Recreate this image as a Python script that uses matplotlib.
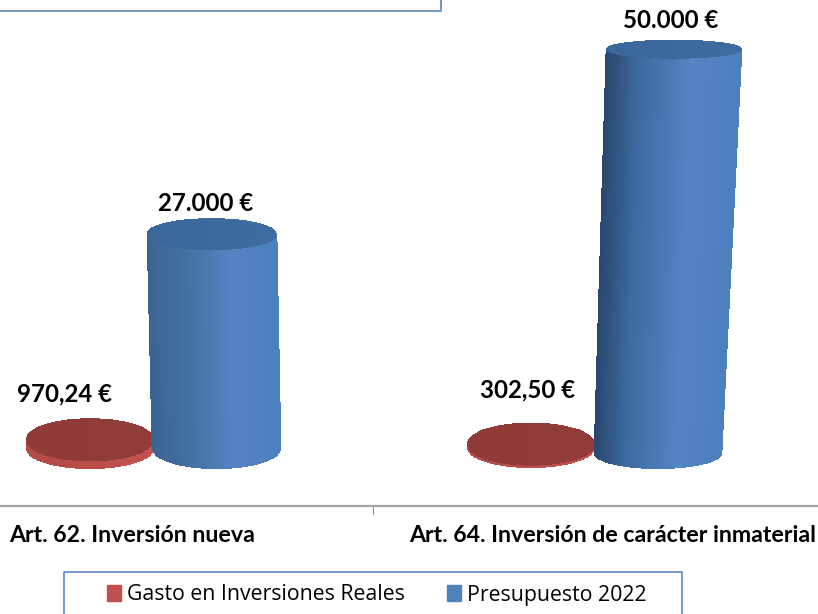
import numpy as np
import matplotlib
matplotlib.use("Agg")
import matplotlib.pyplot as plt
from matplotlib.colors import LinearSegmentedColormap
from matplotlib.patches import Rectangle

categories = ["Art. 62. Inversión nueva", "Art. 64. Inversión de carácter inmaterial"]
series_names = ["Gasto en Inversiones Reales", "Presupuesto 2022"]
gasto = [970.24, 302.50]
presupuesto = [27000, 50000]
gasto_labels = ["970,24 €", "302,50 €"]
presupuesto_labels = ["27.000 €", "50.000 €"]

W, H = 818, 614
PX_PER_EUR = 0.0079
BASE_PX = 447
AXIS_PX = 506

plt.rcParams['font.family'] = ['Lato', 'DejaVu Sans']

fig = plt.figure(figsize=(W / 100, H / 100), dpi=100)
ax = fig.add_axes([0, 1 - AXIS_PX / H, 1, AXIS_PX / H])
ax.set_xlim(0, W)
ax.set_ylim((BASE_PX - AXIS_PX) / PX_PER_EUR, BASE_PX / PX_PER_EUR)

blue = LinearSegmentedColormap.from_list("blue", [(0, "#3a6494"), (0.3, "#44719f"), (0.65, "#5384c4"), (1, "#4c7fbe")])
blue_dark = LinearSegmentedColormap.from_list("blue_dark", [(0, "#28486f"), (0.25, "#3d6a9f"), (0.65, "#5384c4"), (1, "#4c7fbe")])
blue_top = LinearSegmentedColormap.from_list("blue_top", ["#3a6699", "#3f6d9f"])
red_side = LinearSegmentedColormap.from_list("red_side", ["#b14a46", "#c4524e"])
red_top = LinearSegmentedColormap.from_list("red_top", ["#8f3b38", "#913c39"])


def to_eur(px):
    return px / PX_PER_EUR


def mesh(x, y, cmap):
    # edges in the face colour hide the seams between strips
    c = np.linspace(0, 1, x.shape[1] - 1)[None, :]
    ax.pcolormesh(x, y, c, cmap=cmap, vmin=0, vmax=1, shading='flat', edgecolors='face', linewidth=0.5)


def surface(top_c, top_r, top_y, top_ry, bot_c, bot_r, bot_y, bot_ry, cmap):
    u = np.linspace(-1, 1, 90)
    x = np.vstack([bot_c + u * bot_r, top_c + u * top_r])
    y = np.vstack([bot_y - np.sqrt(1 - u**2) * bot_ry, top_y - np.sqrt(1 - u**2) * top_ry])
    mesh(x, y, cmap)


def cap(c, r, y, ry, cmap):
    u = np.sin(np.linspace(-np.pi / 2, np.pi / 2, 120))
    x = np.vstack([c + u * r, c + u * r])
    yy = np.vstack([y - np.sqrt(np.clip(1 - u**2, 0, 1)) * ry, y + np.sqrt(np.clip(1 - u**2, 0, 1)) * ry])
    mesh(x, yy, cmap)


def cylinder(value, base_off, top_c, top_r, top_ry, bot_c, bot_r, bot_ry, stretch, side, top):
    base = to_eur(base_off)
    y_top = base + value * stretch
    surface(top_c, top_r, y_top, to_eur(top_ry), bot_c, bot_r, base, to_eur(bot_ry), side)
    cap(top_c, top_r, y_top, to_eur(top_ry), top)


# red discs go first, the blue cylinders overlap them
cylinder(gasto[0], 0, 89.5, 63.5, 21, 89.5, 63.5, 21, 1, red_side, red_top)
cylinder(gasto[1], 1, 530.5, 63.5, 21, 530.5, 63.5, 21, 1, red_side, red_top)
cylinder(presupuesto[0], 0, 211, 64.5, 15.5, 216, 64, 21, 1, blue, blue_top)
cylinder(presupuesto[1], -5, 673.5, 67.5, 9, 657.5, 63.5, 16, 1.021, blue_dark, blue_top)

for s in ['top', 'left', 'right']:
    ax.spines[s].set_visible(False)
ax.spines['bottom'].set_color("#a6a6a6")
ax.spines['bottom'].set_linewidth(1.6)
ax.set_yticks([])
ax.set_xticks([132.5, 612.5])
ax.set_xticklabels(categories, fontsize=16.7, fontweight='bold', color="black")
ax.tick_params(axis='x', length=0, pad=14)
ax.set_xticks([373], minor=True)
ax.tick_params(axis='x', which='minor', length=6, width=0.7, color="#808080")


def px_text(x, y, s):
    fig.text(x / W, 1 - y / H, s, ha='center', va='center', fontsize=17.3, fontweight='bold', color="black")


for s, x, y in zip(gasto_labels, [64, 528], [394, 390]):
    px_text(x, y, s)
for s, x, y in zip(presupuesto_labels, [206, 671], [204, 20]):
    px_text(x, y, s)

# boxes cut off by the edge of the picture
box_color = "#5b87c0"
fig.add_artist(plt.Line2D([0, 441 / W, 441 / W], [1 - 11 / H, 1 - 11 / H, 1], color=box_color, lw=1.2))
fig.add_artist(plt.Line2D([64 / W, 64 / W, 682 / W, 682 / W], [0, 1 - 572 / H, 1 - 572 / H, 0], color=box_color, lw=1.2))

handles = [Rectangle((0, 0), 1, 1, color="#c0504d"), Rectangle((0, 0), 1, 1, color="#4f81bd")]
leg = fig.legend(handles, series_names, loc='center left', bbox_to_anchor=(107 / W, 1 - 595 / H), ncol=2,
                 frameon=False, prop={'family': ['Open Sans', 'DejaVu Sans'], 'size': 15.3},
                 handlelength=0.66, handleheight=0.72, handletextpad=0.28, columnspacing=2.0, borderpad=0, borderaxespad=0)

fig.savefig("out.png", dpi=100)
